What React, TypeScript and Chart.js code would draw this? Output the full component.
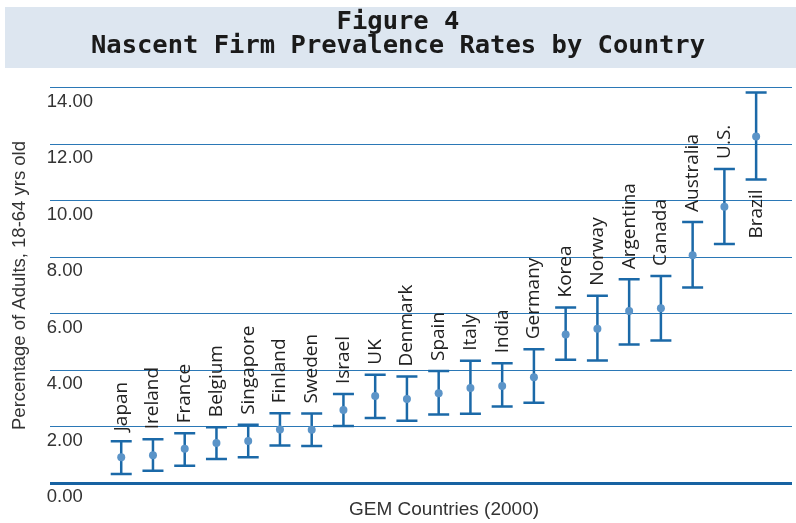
import React, { useEffect, useRef } from "react";
import { Chart, registerables } from "chart.js";

Chart.register(...registerables);

const countries = ["Japan", "Ireland", "France", "Belgium", "Singapore", "Finland", "Sweden", "Israel", "UK", "Denmark", "Spain", "Italy", "India", "Germany", "Korea", "Norway", "Argentina", "Canada", "Australia", "U.S.", "Brazil"];
const means = [0.91, 0.98, 1.21, 1.42, 1.49, 1.9, 1.89, 2.59, 3.08, 2.98, 3.18, 3.37, 3.44, 3.75, 5.26, 5.47, 6.1, 6.19, 8.07, 9.79, 12.28];
const upperBounds = [1.48, 1.55, 1.76, 1.98, 2.06, 2.47, 2.46, 3.15, 3.84, 3.77, 3.97, 4.33, 4.24, 4.74, 6.22, 6.64, 7.22, 7.34, 9.25, 11.13, 13.84];
const lowerBounds = [0.32, 0.43, 0.61, 0.85, 0.91, 1.33, 1.31, 2.02, 2.3, 2.21, 2.43, 2.45, 2.71, 2.84, 4.37, 4.34, 4.91, 5.05, 6.93, 8.47, 10.76];
const yTickValues = [0, 2, 4, 6, 8, 10, 12, 14];
const titleLines = ["Figure 4", "Nascent Firm Prevalence Rates by Country"];
const yAxisTitle = "Percentage of Adults, 18-64 yrs old";
const xAxisTitle = "GEM Countries (2000)";

const BAR_COLOR = "#1b69a8";
const POINT_COLOR = "#5b94c8";
const GRID_COLOR = "#2b78b6";
const BASE_COLOR = "#1762a2";
const AXIS_FONT = "'Liberation Sans Narrow', 'Arial Narrow', 'Liberation Sans', sans-serif";
const LABEL_FONT = "'Open Sans', 'Noto Sans', sans-serif";

const bannerPlugin = {
  id: "banner",
  beforeDraw(chart: any) {
    const { ctx, width } = chart;
    ctx.save();
    ctx.fillStyle = "#dde6f0";
    ctx.fillRect(5, 7, width - 5, 61);
    ctx.restore();
  },
};

const errorBarPlugin = {
  id: "errorBars",
  beforeDatasetsDraw(chart: any) {
    const { ctx, scales } = chart;
    const xs = scales.x;
    const ys = scales.y;
    ctx.save();
    ctx.strokeStyle = BAR_COLOR;
    ctx.lineWidth = 2.5;
    ctx.lineCap = "butt";
    const half = 10.5;
    countries.forEach((_, i) => {
      const x = xs.getPixelForValue(i + 1);
      const yU = ys.getPixelForValue(upperBounds[i]);
      const yL = ys.getPixelForValue(lowerBounds[i]);
      ctx.beginPath();
      ctx.moveTo(x, yU);
      ctx.lineTo(x, yL);
      ctx.moveTo(x - half, yU);
      ctx.lineTo(x + half, yU);
      ctx.moveTo(x - half, yL);
      ctx.lineTo(x + half, yL);
      ctx.stroke();
    });
    ctx.restore();
  },
};

const labelPlugin = {
  id: "countryLabels",
  afterDatasetsDraw(chart: any) {
    const { ctx, scales, chartArea } = chart;
    const xs = scales.x;
    const ys = scales.y;
    ctx.save();
    ctx.font = `19px ${LABEL_FONT}`;
    ctx.fillStyle = "#222222";
    ctx.textAlign = "left";
    ctx.textBaseline = "middle";
    const gap = 10;
    countries.forEach((name, i) => {
      const x = xs.getPixelForValue(i + 1);
      const yU = ys.getPixelForValue(upperBounds[i]);
      const yL = ys.getPixelForValue(lowerBounds[i]);
      const w = ctx.measureText(name).width;
      let start = yU - gap;
      if (start - w < chartArea.top) {
        start = yL + gap + w;
      }
      ctx.save();
      ctx.translate(x, start);
      ctx.rotate(-Math.PI / 2);
      ctx.fillText(name, 0, 0);
      ctx.restore();
    });
    ctx.restore();
  },
};

const xTitlePlugin = {
  id: "xTitle",
  afterDraw(chart: any) {
    const { ctx } = chart;
    ctx.save();
    ctx.font = `19px ${AXIS_FONT}`;
    ctx.fillStyle = "#333333";
    ctx.textAlign = "center";
    ctx.textBaseline = "middle";
    ctx.fillText(xAxisTitle, 444, 510);
    ctx.restore();
  },
};

export default function App() {
  const canvasRef = useRef<HTMLCanvasElement | null>(null);

  useEffect(() => {
    if (!canvasRef.current) return;
    const chart = new Chart(canvasRef.current, {
      type: "scatter",
      data: {
        datasets: [
          {
            data: countries.map((_, i) => ({ x: i + 1, y: means[i] })),
            pointRadius: 4,
            pointHoverRadius: 4,
            backgroundColor: POINT_COLOR,
            borderWidth: 0,
            showLine: false,
          },
        ],
      },
      options: {
        animation: false,
        responsive: true,
        maintainAspectRatio: false,
        layout: { padding: { top: 0, left: 0, right: 0, bottom: 40 } },
        plugins: {
          legend: { display: false },
          tooltip: { enabled: false },
          title: {
            display: true,
            text: titleLines,
            color: "#1a1a1a",
            font: { family: "'DejaVu Sans Mono', monospace", size: 25.5, weight: "bold", lineHeight: 0.96 },
            padding: { top: 10, bottom: 29 },
          },
        },
        scales: {
          x: {
            type: "linear",
            display: false,
            min: -1.25,
            max: 22.13,
          },
          y: {
            type: "linear",
            min: 0,
            max: 14,
            afterBuildTicks: (axis: any) => {
              axis.ticks = yTickValues.map((v) => ({ value: v }));
            },
            border: { display: false },
            grid: {
              drawTicks: false,
              color: (c: any) => (c.tick && c.tick.value === 0 ? BASE_COLOR : GRID_COLOR),
              lineWidth: (c: any) => (c.tick && c.tick.value === 0 ? 3 : 1),
            },
            ticks: {
              mirror: true,
              padding: -3,
              labelOffset: 14,
              color: "#333333",
              font: { family: AXIS_FONT, size: 18.5 },
              callback: (v: any) => Number(v).toFixed(2),
            },
            title: {
              display: true,
              text: yAxisTitle,
              color: "#333333",
              font: { family: AXIS_FONT, size: 18.5, lineHeight: 1.2 },
              padding: { top: 9, bottom: 24.6 },
            },
          },
        },
      },
      plugins: [bannerPlugin, errorBarPlugin, labelPlugin, xTitlePlugin],
    });
    return () => chart.destroy();
  }, []);

  return (
    <div style={{ position: "fixed", left: 0, top: 0, width: 796, height: 523, background: "#ffffff" }}>
      <canvas ref={canvasRef} />
    </div>
  );
}
